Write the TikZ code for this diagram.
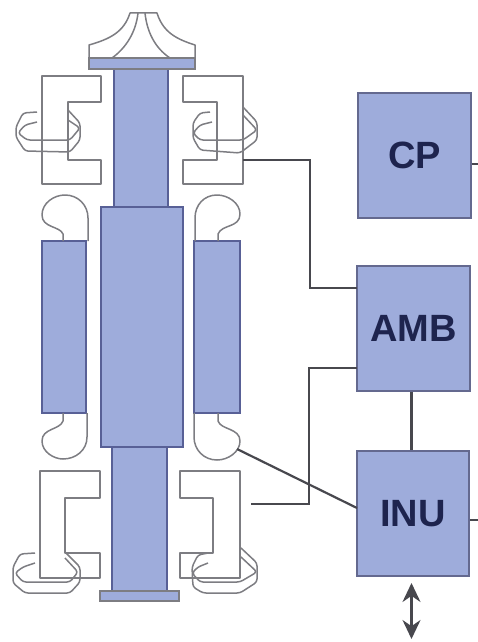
\documentclass[tikz,border=0pt]{standalone}
\usepackage{fontspec}
\setmainfont{Liberation Sans}
\usetikzlibrary{arrows.meta}
\definecolor{bluefill}{RGB}{158,172,219}
\definecolor{blueedge}{RGB}{88,96,150}
\definecolor{outline}{RGB}{125,125,130}
\definecolor{wirecol}{RGB}{72,72,78}
\definecolor{textcol}{RGB}{30,36,78}
\begin{document}
\begin{tikzpicture}[x=1pt, y=-1pt]
    \tikzset{unit box/.style={draw=blueedge!70!gray, line width=1.6pt, fill=bluefill, minimum width=113pt, minimum height=125pt, inner sep=0pt, text=textcol, font=\fontsize{38}{38}\selectfont\bfseries}}
    \tikzset{part/.style={draw=outline, line width=1.5pt, line join=round}}
    \tikzset{solid part/.style={draw=blueedge, line width=1.5pt, fill=bluefill}}
    \tikzset{wire/.style={draw=wirecol, line width=2.2pt}}
    \useasboundingbox (0, 0) rectangle (478, 642);

    % Impeller
    \draw[part] (89, 58) -- (89, 45) .. controls (110, 39) and (124, 32) .. (130, 13) -- (157, 13) .. controls (163, 32) and (176, 39) .. (195, 45) -- (195, 58);
    \draw[part] (138, 13) .. controls (136, 32) and (126, 48) .. (112, 58);
    \draw[part] (145, 13) .. controls (147, 32) and (155, 48) .. (170, 58);

    % Shaft and rotor
    \draw[solid part] (114, 69) rectangle (168, 207);
    \draw[solid part] (112, 447) rectangle (167, 592);
    \draw[solid part] (101, 207) rectangle (183, 447);
    \draw[solid part, draw=outline] (89, 58) rectangle (195, 69);
    \draw[solid part, draw=outline] (100, 591) rectangle (179, 601);

    % Stator
    \draw[solid part] (42, 241) rectangle (86, 413);
    \draw[solid part] (194, 241) rectangle (240, 413);

    % Winding heads
    \draw[part] (63, 241) -- (63, 234) .. controls (60, 226) and (42, 228) .. (42, 215) .. controls (42, 203) and (54, 195) .. (65, 195) .. controls (78, 195) and (88, 205) .. (88, 218) -- (88, 241);
    \draw[part] (218, 241) -- (218, 234) .. controls (222, 224) and (240, 228) .. (240, 214) .. controls (240, 203) and (228, 195) .. (217, 195) .. controls (204, 195) and (195, 205) .. (195, 218) -- (195, 241);
    \draw[part] (63, 413) -- (63, 421) .. controls (60, 430) and (42, 428) .. (42, 441) .. controls (42, 452) and (54, 459) .. (63, 459) .. controls (76, 459) and (87, 450) .. (87, 437) -- (87, 413);
    \draw[part] (218, 413) -- (218, 421) .. controls (221, 430) and (240, 428) .. (240, 441) .. controls (240, 452) and (228, 460) .. (217, 460) .. controls (204, 460) and (194, 450) .. (194, 437) -- (194, 413);

    % Bearings
    \draw[part] (42, 76) -- (101, 76) -- (101, 102) -- (68, 102) -- (68, 160) -- (101, 160) -- (101, 184) -- (42, 184) -- cycle;
    \draw[part] (183, 76) -- (243, 76) -- (243, 184) -- (183, 184) -- (183, 160) -- (217, 160) -- (217, 102) -- (183, 102) -- cycle;
    \draw[part] (40, 471) -- (100, 471) -- (100, 498) -- (65, 498) -- (65, 553) -- (100, 553) -- (100, 578) -- (40, 578) -- cycle;
    \draw[part] (180, 471) -- (240, 471) -- (240, 578) -- (180, 578) -- (180, 553) -- (213, 553) -- (213, 498) -- (180, 498) -- cycle;

    % Coils, upper
    \draw[part, rounded corners=3pt] (37, 112) -- (23, 113) -- (16, 127) -- (16, 137) -- (25, 151) -- (70, 152) -- (80, 140) -- (80, 123) -- (68, 110);
    \draw[part, rounded corners=3pt] (37, 122) -- (25, 125) -- (18, 133) -- (27, 140) -- (70, 140) -- (80, 128) -- (68, 120);
    \draw[part, rounded corners=3pt] (210, 112) -- (200, 113) -- (193, 123) -- (193, 138) -- (200, 150) -- (240, 153) -- (257, 140) -- (257, 122) -- (243, 107);
    \draw[part, rounded corners=3pt] (212, 122) -- (200, 125) -- (193, 133) -- (200, 140) -- (243, 140) -- (257, 130) -- (243, 115);

    % Coils, lower
    \draw[part, rounded corners=3pt] (35, 553) -- (20, 554) -- (13, 567) -- (13, 583) -- (25, 593) -- (70, 593) -- (80, 582) -- (80, 567) -- (65, 552);
    \draw[part, rounded corners=3pt] (35, 563) -- (23, 567) -- (15, 573) -- (23, 582) -- (70, 582) -- (78, 572) -- (65, 558);
    \draw[part, rounded corners=3pt] (208, 553) -- (198, 555) -- (192, 567) -- (193, 587) -- (203, 593) -- (240, 593) -- (257, 582) -- (257, 563) -- (241, 548);
    \draw[part, rounded corners=3pt] (208, 563) -- (198, 567) -- (192, 573) -- (200, 582) -- (240, 582) -- (257, 572) -- (241, 557);

    % Units
    \node[unit box] (cp) at (414.5, 155.5) {CP};
    \node[unit box] (amb) at (413.5, 328.5) {AMB};
    \node[unit box, minimum width=112pt] (inu) at (413, 513.5) {INU};

    % Free ends
    \coordinate (cpout) at (478, 164);
    \coordinate (inuout) at (478, 520);
    \coordinate (upbearing) at (243, 160);
    \coordinate (lowbearing) at (251, 504);
    \coordinate (winding) at (237, 449);
    \coordinate (ambup) at (357, 288);
    \coordinate (amblow) at (357, 368);
    \coordinate (inuleft) at (357, 508);
    \coordinate (upbend) at (310, 288);
    \coordinate (lowbend) at (309, 368);
    \coordinate (hosttop) at (411.5, 583);
    \coordinate (hostlow) at (411.5, 639);

    % Connections
    \draw[wire] (cp.east |- cpout) -- (cpout);
    \draw[wire] (inu.east |- inuout) -- (inuout);
    \draw[wire] (upbearing) -| (upbend) -- (ambup);
    \draw[wire] (lowbearing) -| (lowbend) -- (amblow);
    \draw[wire] (winding) -- (inuleft);
    \draw[wire] (amb.south -| hosttop) -- (inu.north -| hosttop);
    \draw[wire, {Stealth[length=19pt, width=18pt]}-{Stealth[length=19pt, width=18pt]}] (hosttop) -- (hostlow);
\end{tikzpicture}
\end{document}
